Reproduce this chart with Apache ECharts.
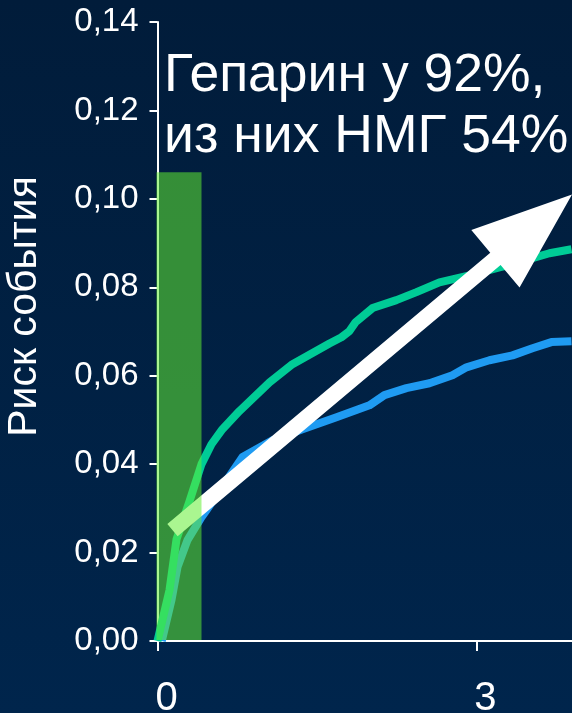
<!DOCTYPE html>
<html>
<head>
<meta charset="utf-8">
<script src="https://cdn.jsdelivr.net/npm/echarts@6/dist/echarts.min.js"></script>
<style>
  html, body { margin: 0; padding: 0; background: #011c3a; }
  #chart { width: 572px; height: 713px; }
</style>
</head>
<body>
<div id="chart"></div>
<script>
// Axis ticks
const xTicks = [0, 3];
const yTicks = [0, 0.02, 0.04, 0.06, 0.08, 0.10, 0.12, 0.14];

// Upper (green) cumulative risk curve
const greenX = [0, 0.113, 0.179, 0.301, 0.414, 0.508, 0.611, 0.771, 1.054, 1.270, 1.618, 1.731, 1.806, 1.863, 2.023, 2.248, 2.437, 2.653, 2.935, 3.217, 3.377, 3.528, 3.688, 3.895];
const greenY = [0, 0.0115, 0.0230, 0.0316, 0.0400, 0.0445, 0.0479, 0.0520, 0.0585, 0.0626, 0.0673, 0.0687, 0.0701, 0.0721, 0.0753, 0.0771, 0.0789, 0.0811, 0.0827, 0.0845, 0.0854, 0.0866, 0.0877, 0.0886];

// Lower (blue) cumulative risk curve
const blueX = [0.04, 0.132, 0.188, 0.282, 0.414, 0.461, 0.800, 1.082, 1.364, 1.684, 1.994, 2.135, 2.342, 2.559, 2.775, 2.907, 3.123, 3.340, 3.528, 3.706, 3.895];
const blueY = [0, 0.0093, 0.0167, 0.0228, 0.0280, 0.0296, 0.0416, 0.0454, 0.0479, 0.0506, 0.0533, 0.0556, 0.0572, 0.0583, 0.0601, 0.0619, 0.0635, 0.0646, 0.0662, 0.0676, 0.0678];

// Early treatment window (x from, x to, top of band)
const bandX = [-0.01, 0.414];
const bandTop = [0.106];

// Trend arrow: tail and tip
const arrowFrom = [0.141, 0.0251];
const arrowTo = [3.90, 0.1010];

const FONT = '"Liberation Sans", Arial, sans-serif';

const zip = (xs, ys) => xs.map((x, i) => [x, ys[i]]);

const chart = echarts.init(document.getElementById('chart'));

chart.setOption({
  animation: false,
  backgroundColor: {
    type: 'linear', x: 0, y: 0, x2: 0, y2: 1,
    colorStops: [
      { offset: 0, color: '#011c3a' },
      { offset: 1, color: '#00254c' }
    ]
  },
  textStyle: { fontFamily: FONT },
  title: {
    text: 'Гепарин у 92%,\nиз них НМГ 54%',
    left: 164,
    top: 46,
    padding: 0,
    textStyle: {
      color: '#ffffff',
      fontSize: 53.5,
      fontWeight: 'normal',
      lineHeight: 61,
      fontFamily: FONT
    }
  },
  grid: { left: 157.5, right: 0, top: 22, bottom: 72, outerBoundsMode: 'none', containLabel: false },
  xAxis: {
    type: 'value',
    min: 0,
    max: 3.9,
    axisLine: { lineStyle: { color: '#ffffff', width: 2 } },
    axisTick: { show: true, length: 10, customValues: xTicks, lineStyle: { color: '#ffffff', width: 2 } },
    axisLabel: {
      customValues: xTicks,
      color: '#ffffff',
      fontSize: 40,
      margin: 38,
      padding: [0, 0, 0, 18],
      fontFamily: FONT
    },
    splitLine: { show: false }
  },
  yAxis: {
    type: 'value',
    min: yTicks[0],
    max: yTicks[yTicks.length - 1],
    interval: 0.02,
    name: 'Риск события',
    nameLocation: 'middle',
    nameGap: 112,
    nameTextStyle: { color: '#ffffff', fontSize: 41, fontFamily: FONT, padding: [0, 0, 0, 50] },
    axisLine: { show: true, lineStyle: { color: '#ffffff', width: 2 } },
    axisTick: { show: true, length: 8, lineStyle: { color: '#ffffff', width: 2 } },
    axisLabel: {
      color: '#ffffff',
      fontSize: 33,
      margin: 19,
      fontFamily: FONT,
      formatter: v => v.toFixed(2).replace('.', ',')
    },
    splitLine: { show: false }
  },
  series: [
    {
      type: 'line',
      data: zip(blueX, blueY),
      showSymbol: false,
      lineStyle: { color: '#1f9bf2', width: 8, join: 'round' },
      z: 2
    },
    {
      type: 'line',
      data: zip(greenX, greenY),
      showSymbol: false,
      lineStyle: { color: '#00cc96', width: 8, join: 'round' },
      z: 3
    },
    {
      type: 'custom',
      encode: { x: [0, 2], y: [1, 3] },
      data: [[arrowFrom[0], arrowFrom[1], arrowTo[0], arrowTo[1]]],
      z: 4,
      renderItem: (params, api) => {
        const a = api.coord([api.value(0), api.value(1)]);
        const b = api.coord([api.value(2), api.value(3)]);
        const dx = b[0] - a[0], dy = b[1] - a[1];
        const len = Math.hypot(dx, dy);
        const ux = dx / len, uy = dy / len;
        const nx = -uy, ny = ux;
        const shaft = 8, headLen = 100, headHalf = 37.5;
        const bx = b[0] - ux * headLen, by = b[1] - uy * headLen;
        const pts = [
          [a[0] + nx * shaft, a[1] + ny * shaft],
          [bx + nx * shaft, by + ny * shaft],
          [bx + nx * headHalf, by + ny * headHalf],
          [b[0], b[1]],
          [bx - nx * headHalf, by - ny * headHalf],
          [bx - nx * shaft, by - ny * shaft],
          [a[0] - nx * shaft, a[1] - ny * shaft]
        ];
        return { type: 'polygon', shape: { points: pts }, style: { fill: '#ffffff' } };
      }
    },
    {
      type: 'custom',
      encode: { x: [0, 1], y: 2 },
      data: [[bandX[0], bandX[1], bandTop[0]]],
      z: 6,
      renderItem: (params, api) => {
        const p0 = api.coord([api.value(0), api.value(2)]);
        const p1 = api.coord([api.value(1), 0]);
        return {
          type: 'rect',
          shape: { x: p0[0], y: p0[1], width: p1[0] - p0[0], height: p1[1] - p0[1] - 1 },
          style: { fill: 'rgba(98,238,50,0.54)' }
        };
      }
    }
  ]
});
</script>
</body>
</html>
